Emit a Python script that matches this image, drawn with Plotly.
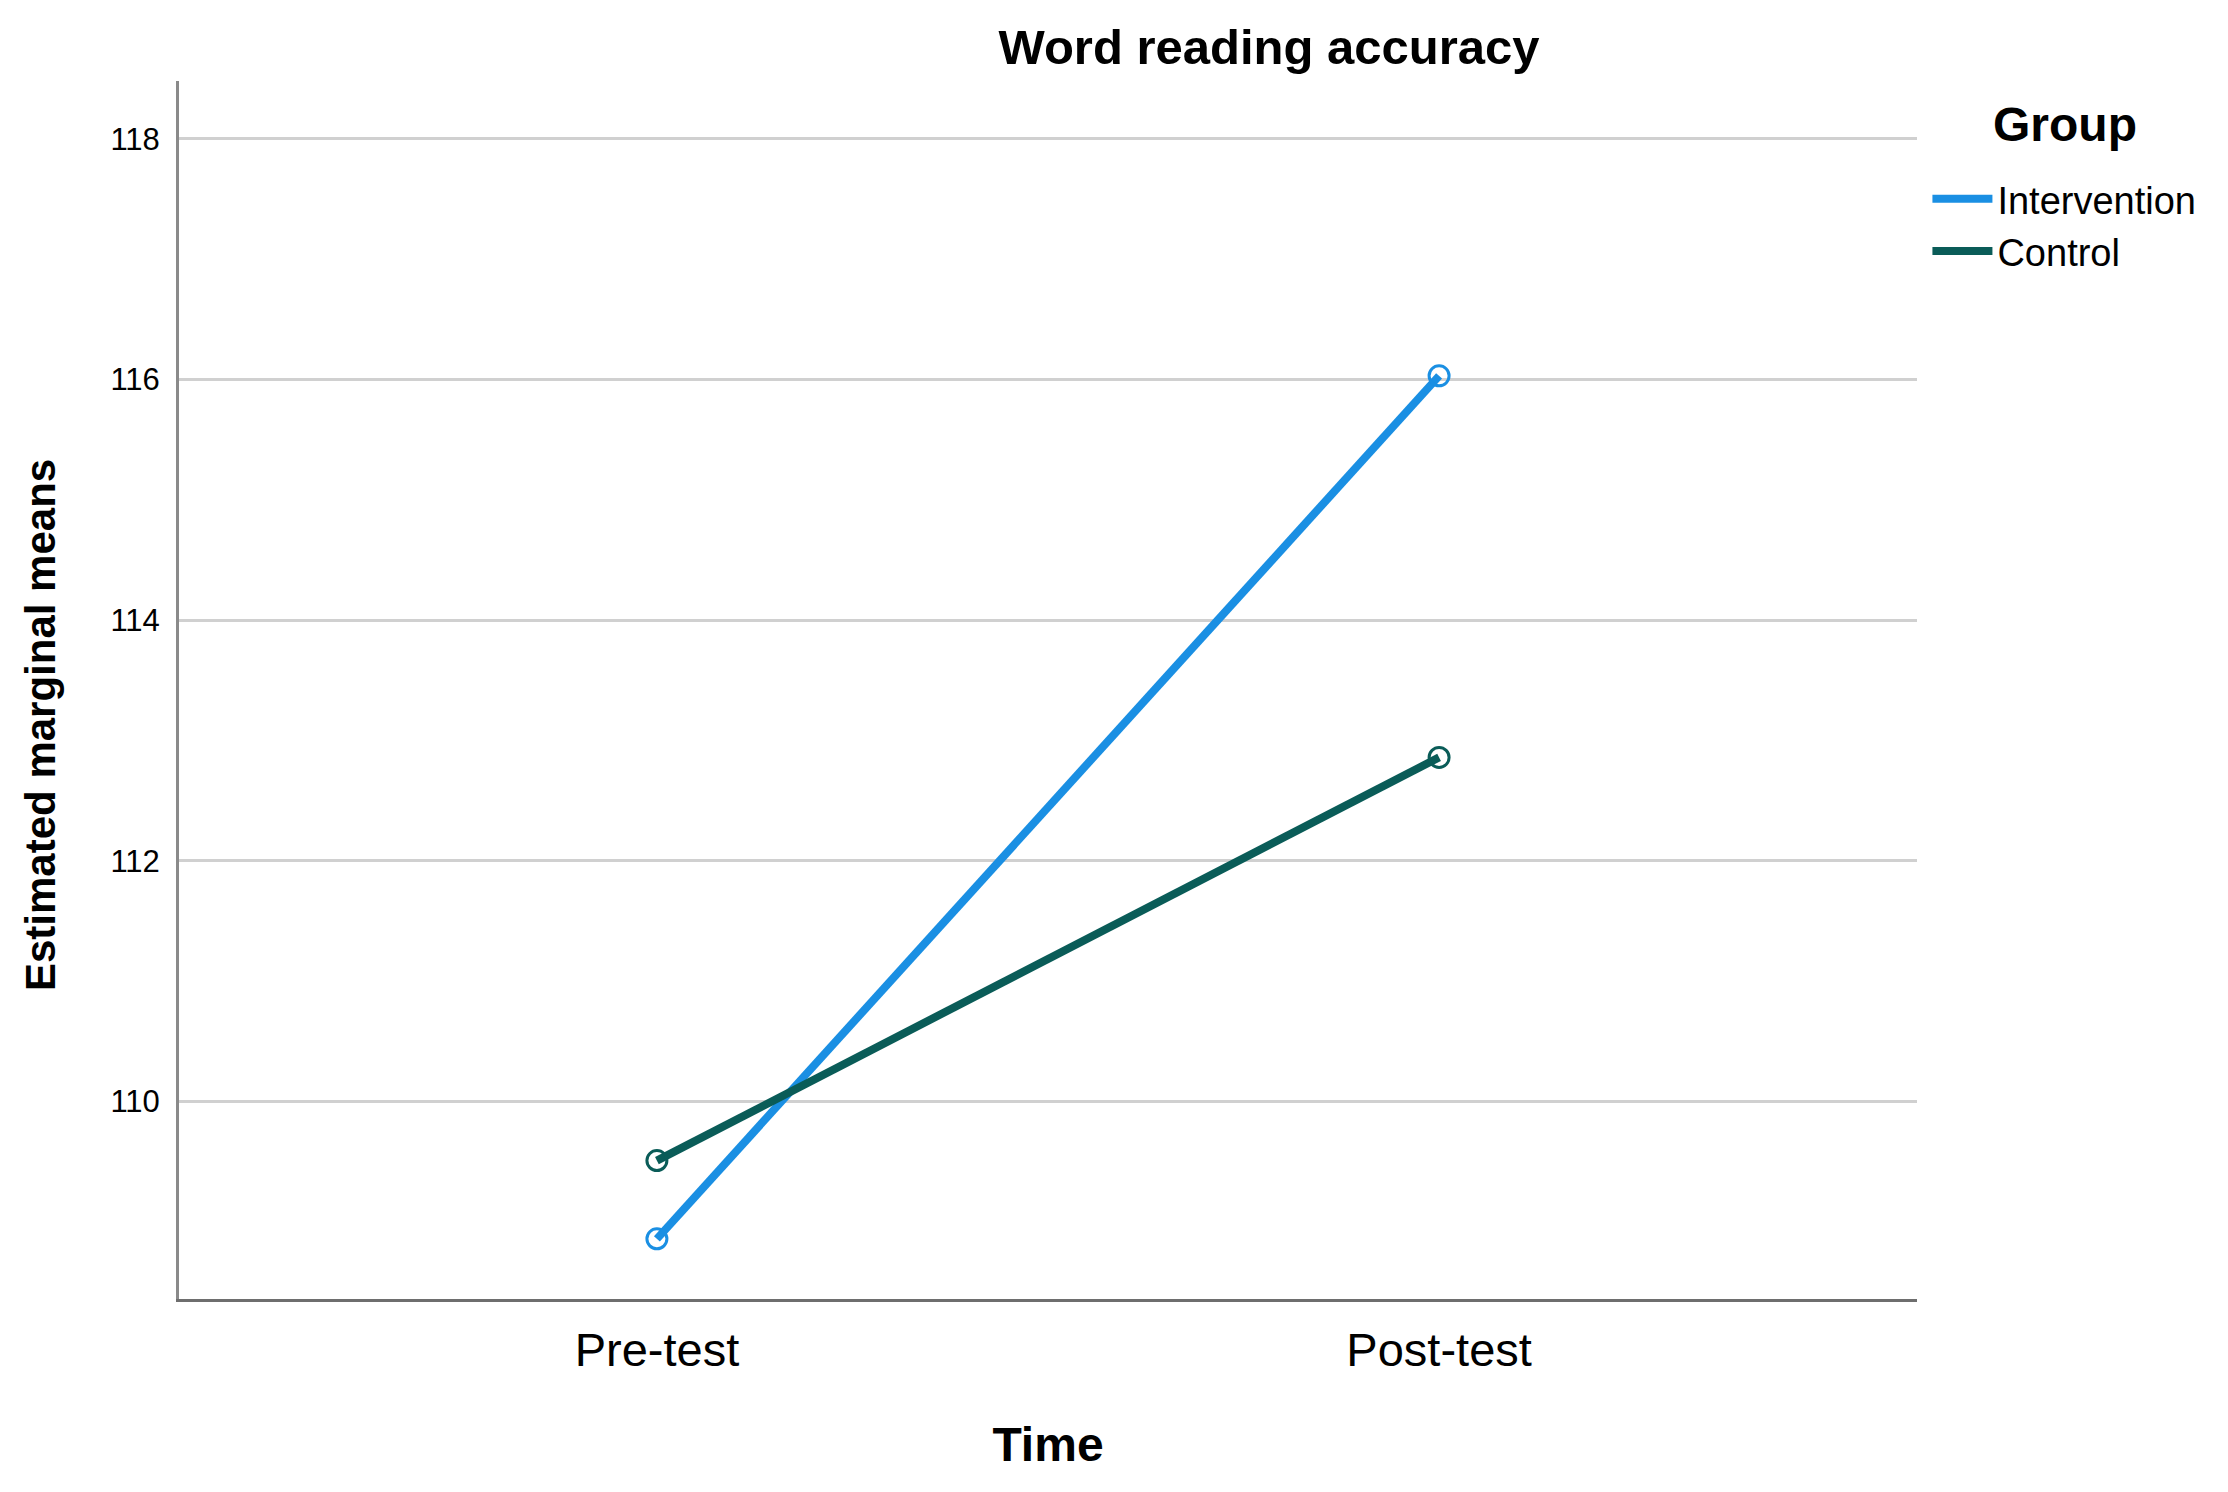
import plotly.graph_objects as go

# estimated marginal means
time_points = ['Pre-test', 'Post-test']
intervention = [108.86, 116.03]
control = [109.51, 112.86]
y_ticks = [110, 112, 114, 116, 118]

blue = '#1a8fe3'
teal = '#0a5c58'

fig = go.Figure()
for name, vals, col in [('Intervention', intervention, blue), ('Control', control, teal)]:
    # data trace (open circles at the means)
    fig.add_trace(go.Scatter(
        x=time_points, y=vals, name=name, mode='lines+markers', showlegend=False,
        line=dict(color=col, width=8),
        marker=dict(symbol='circle-open', size=20, color=col, line=dict(width=3, color=col)),
    ))
    # legend entry, line only
    fig.add_trace(go.Scatter(
        x=[None], y=[None], name=name, mode='lines',
        line=dict(color=col, width=8),
    ))

fig.update_layout(
    width=2228, height=1492,
    plot_bgcolor='white', paper_bgcolor='white',
    margin=dict(l=171, r=319, t=73, b=201),
    font=dict(family='Liberation Sans, Arial', color='black'),
    title=dict(
        text='<b>Word reading accuracy</b>',
        font=dict(size=49),
        x=0.566, xanchor='center', xref='container',
        y=1 - 39 / 1492, yanchor='middle', yref='container',
    ),
    legend=dict(
        font=dict(size=38),
        x=1.006, xanchor='left', y=0.929, yanchor='top',
        tracegroupgap=0, itemwidth=60,
        bgcolor='rgba(0,0,0,0)',
    ),
    showlegend=True,
    annotations=[
        dict(
            text='<b>Group</b>', font=dict(size=48),
            xref='paper', yref='paper', showarrow=False,
            x=(2057 - 171) / 1738, y=1 - (117 - 73) / 1218,
            xanchor='center', yanchor='middle',
        ),
        dict(
            text='<b>Estimated marginal means</b>', font=dict(size=42),
            xref='paper', yref='paper', showarrow=False, textangle=-90,
            x=(32 - 171) / 1738, y=1 - (717 - 73) / 1218,
            xanchor='center', yanchor='middle',
        ),
    ],
)

fig.update_xaxes(
    range=[-0.611, 1.611],
    showline=True, linecolor='#6e6e6e', linewidth=3,
    showgrid=False, ticks='', tickfont=dict(size=47),
    ticklabelstandoff=8,
    title=dict(text='<b>Time</b>', font=dict(size=48), standoff=52),
)
fig.update_yaxes(
    range=[108.36, 118.48],
    tickvals=y_ticks,
    showline=True, linecolor='#8a8a8a', linewidth=3,
    showgrid=True, gridcolor='#d0d0d0', gridwidth=3,
    zeroline=False, ticks='', tickfont=dict(size=31),
    ticklabelstandoff=10,
)

fig.write_html('out.html')
